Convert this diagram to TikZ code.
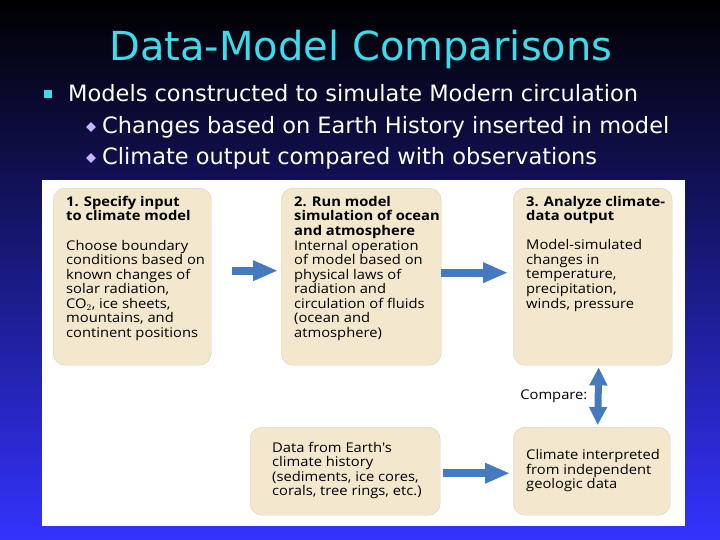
\documentclass[tikz,border=0pt]{standalone}
\usepackage{fontspec}
\usepackage{tikz}
\usetikzlibrary{arrows.meta}
\usetikzlibrary{shapes.geometric}
\newfontfamily\boxfont[FakeStretch=1.1]{Open Sans}
\newfontfamily\slidefont{DejaVu Sans}
\definecolor{slideblue}{RGB}{51,51,255}
\definecolor{titlecyan}{RGB}{60,220,235}
\definecolor{lavender}{RGB}{200,180,255}
\definecolor{boxfill}{RGB}{243,232,206}
\definecolor{boxline}{RGB}{214,208,188}
\definecolor{arrowblue}{RGB}{70,122,192}
\newcommand{\boxtext}[4]{\parbox[#1][#3][#1]{#2}{\begin{tabular}[#1]{@{}l@{}}#4\end{tabular}}}
\tikzset{
	box/.style={draw=boxline,fill=boxfill,rounded corners=12bp,anchor=north west,
		inner xsep=13bp,inner ysep=8bp,font=\boxfont\fontsize{13.4bp}{14.5bp}\selectfont},
	edge/.style={-{Triangle[length=25bp,width=19bp]},line width=8bp,draw=arrowblue},
	bothedge/.style={{Triangle[length=18bp,width=17bp]}-{Triangle[length=18bp,width=17bp]},line width=7bp,draw=arrowblue},
	bullettext/.style={anchor=base west,inner sep=0pt,text=white,font=\slidefont\fontsize{22.5bp}{26bp}\selectfont},
	%	mainbullet/.style={fill=titlecyan,minimum size=8bp,inner sep=0pt},
	mainbullet/.style={rectangle,fill=titlecyan,minimum size=8bp,inner sep=0pt},
	subbullet/.style={diamond,fill=lavender,minimum size=10bp,inner sep=0pt}
}
\begin{document}
\begin{tikzpicture}[x=1bp,y=-1bp]
	\useasboundingbox (0,0) rectangle (720,540);
	\shade[top color=black,bottom color=slideblue] (0,0) rectangle (720,540);
	\fill[white] (42,180) rectangle (685,526);
	
	\node[text=titlecyan,font=\slidefont\fontsize{40bp}{44bp}\selectfont] (title) at (361,49) {Data-Model Comparisons};
	
	\node[mainbullet] (b0) at (48,94) {};
	\node[bullettext] (line0) at (68,102) {Models constructed to simulate Modern circulation};
	\node[subbullet] (b1) at (91,127) {};
	\node[bullettext] (line1) at (102,134) {Changes based on Earth History inserted in model};
	\node[subbullet] (b2) at (91,158) {};
	\node[bullettext] (line2) at (102,165) {Climate output compared with observations};
	
	\node[box] (input) at (53,188) {\boxtext{t}{132bp}{161bp}{\textbf{1. Specify input}\\
		\textbf{to climate model}\\[14.5bp]
		Choose boundary\\ conditions based on\\ known changes of\\ solar radiation,\\
		CO$_2$, ice sheets,\\ mountains, and\\ continent positions}};
	\node[box] (run) at (281,188) {\boxtext{t}{134bp}{161bp}{\textbf{2. Run model}\\
		\textbf{simulation of ocean}\\ \textbf{and atmosphere}\\
		Internal operation\\ of model based on\\ physical laws of\\ radiation and\\
		circulation of fluids\\ (ocean and\\ atmosphere)}};
	\node[box] (analyze) at (513,188) {\boxtext{t}{133bp}{161bp}{\textbf{3. Analyze climate-}\\
		\textbf{data output}\\[14.5bp]
		Model-simulated\\ changes in\\ temperature,\\ precipitation,\\ winds, pressure}};
	\node[box] (history) at (250,427) {\boxtext{c}{164bp}{72bp}{\hspace*{9bp}Data from Earth's\\
		\hspace*{9bp}climate history\\ \hspace*{9bp}(sediments, ice cores,\\ \hspace*{9bp}corals, tree rings, etc.)}};
	\node[box] (interpreted) at (513,427) {\boxtext{c}{131bp}{72bp}{Climate interpreted\\
		from independent\\ geologic data}};
	
	\draw[edge,shorten <=21bp,shorten >=3bp] ([yshift=6bp]input.east) -- ([yshift=6bp]run.west);
	\draw[edge,shorten <=0bp,shorten >=5bp] ([yshift=4bp]run.east) -- ([yshift=4bp]analyze.west);
	\draw[edge,shorten <=3bp,shorten >=3bp] ([yshift=-2bp]history.east) -- ([yshift=-2bp]interpreted.west);
	\draw[bothedge,shorten <=2bp,shorten >=2bp] ([xshift=6bp]analyze.south) -- node[left=4bp,text=black,font=\boxfont\fontsize{13.4bp}{14.5bp}\selectfont] {Compare:} ([xshift=6bp]interpreted.north);
\end{tikzpicture}
\end{document}
